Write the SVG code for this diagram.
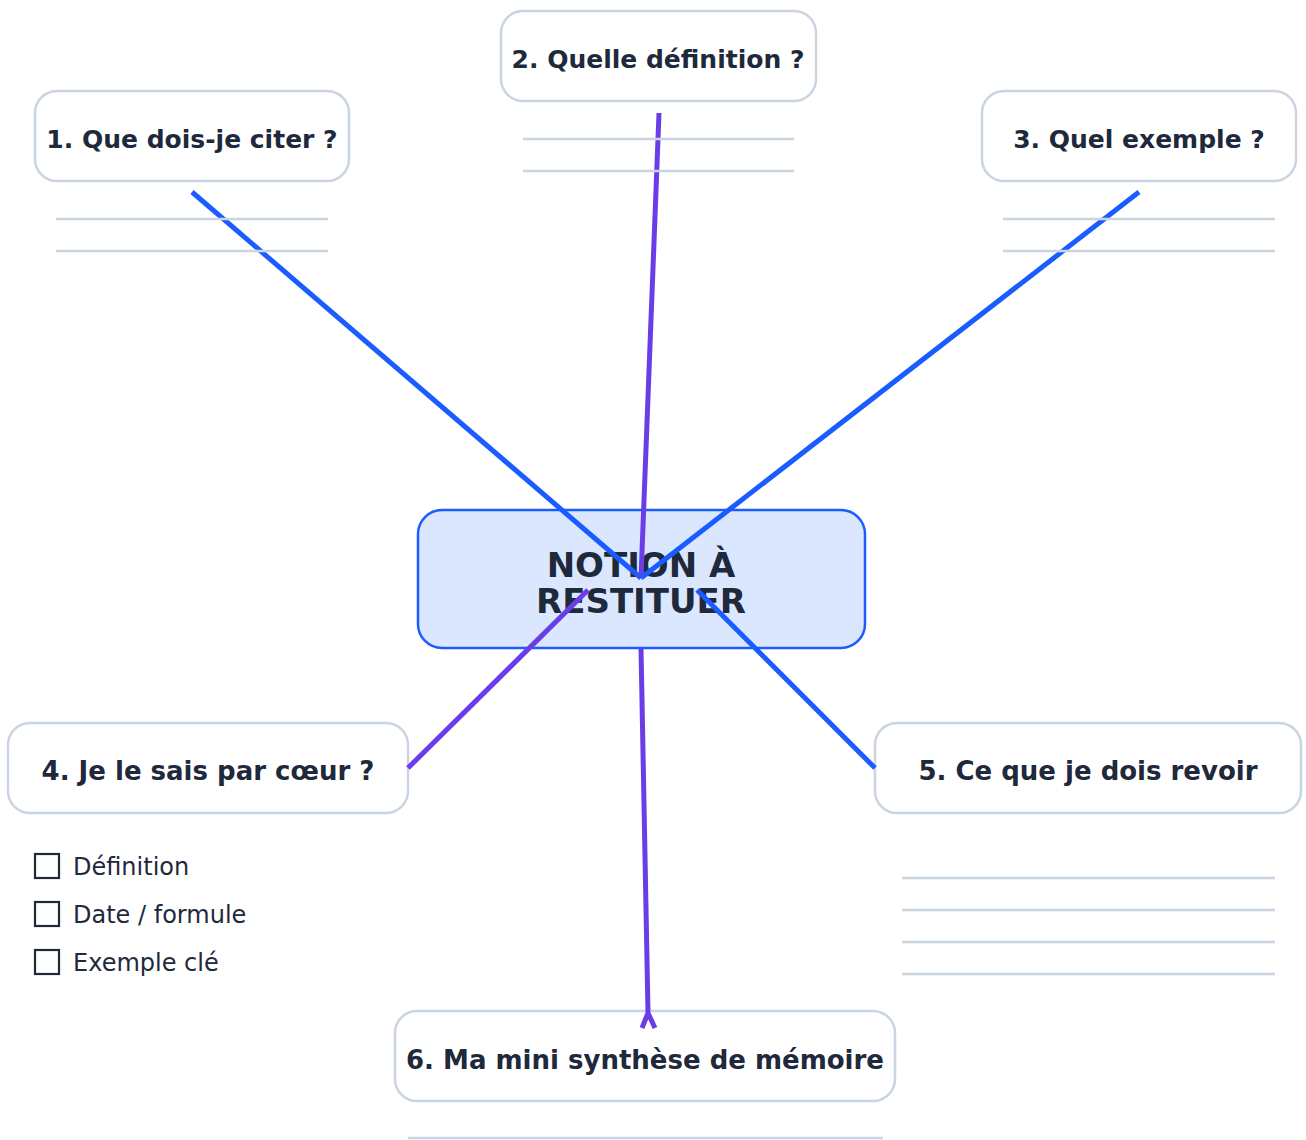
<svg xmlns="http://www.w3.org/2000/svg" width="1306" height="1140" viewBox="0 0 1306 1140">
<style>
.node{fill:#ffffff;stroke:#cbd5e1;stroke-width:2.5}
.center{fill:#dbe7fe;stroke:#1a5cff;stroke-width:2.5}
.lbl{font-family:"DejaVu Sans",sans-serif;font-weight:bold;font-size:25px;fill:#1e293b;text-anchor:middle}
.lbl2{font-family:"DejaVu Sans",sans-serif;font-weight:bold;font-size:26px;fill:#1e293b;text-anchor:middle}
.clbl{font-family:"DejaVu Sans",sans-serif;font-weight:bold;font-size:34px;fill:#1e293b;text-anchor:middle}
.item{font-family:"DejaVu Sans",sans-serif;font-size:24px;fill:#1e293b}
.guide{stroke:#cbd5e1;stroke-width:2.5}
.box{fill:none;stroke:#1e293b;stroke-width:2.2}
.blue{stroke:#1a5cff;stroke-width:5;fill:none}
.purple{stroke:#6b3de8;stroke-width:5;fill:none}
</style>
<rect width="1306" height="1140" fill="#ffffff"/>
<g id="center">
<rect class="center" x="418" y="510" width="447" height="138" rx="24"/>
<text class="clbl" x="641" y="577">NOTION À</text>
<text class="clbl" x="641" y="613">RESTITUER</text>
</g>
<g id="node1">
<rect class="node" x="35" y="91" width="314" height="90" rx="22"/>
<text class="lbl" x="192" y="148">1. Que dois-je citer ?</text>
</g>
<g id="node2">
<rect class="node" x="501" y="11" width="315" height="90" rx="22"/>
<text class="lbl" x="658" y="68">2. Quelle définition ?</text>
</g>
<g id="node3">
<rect class="node" x="982" y="91" width="314" height="90" rx="22"/>
<text class="lbl" x="1139" y="148">3. Quel exemple ?</text>
</g>
<g id="node4">
<rect class="node" x="8" y="723" width="400" height="90" rx="22"/>
<text class="lbl2" x="208" y="780">4. Je le sais par cœur ?</text>
<rect class="box" x="35" y="854" width="24" height="24"/>
<text class="item" x="73" y="875">Définition</text>
<rect class="box" x="35" y="902" width="24" height="24"/>
<text class="item" x="73" y="923">Date / formule</text>
<rect class="box" x="35" y="950" width="24" height="24"/>
<text class="item" x="73" y="971">Exemple clé</text>
</g>
<g id="node5">
<rect class="node" x="875" y="723" width="426" height="90" rx="22"/>
<text class="lbl2" x="1088" y="780">5. Ce que je dois revoir</text>
</g>
<g id="node6">
<rect class="node" x="395" y="1011" width="500" height="90" rx="22"/>
<text class="lbl2" x="645" y="1069">6. Ma mini synthèse de mémoire</text>
</g>
<g id="connectors">
<line class="blue" x1="192" y1="192" x2="641" y2="578"/>
<line class="purple" x1="659" y1="113" x2="641" y2="578"/>
<line class="blue" x1="1139" y1="192" x2="641" y2="578"/>
<line class="purple" x1="588" y1="590" x2="408" y2="768"/>
<line class="blue" x1="697" y1="590" x2="875" y2="768"/>
<line class="purple" x1="641" y1="648" x2="648" y2="1012"/>
<path class="purple" d="M642 1028 L648 1013 L655 1028"/>
</g>
<g id="guides">
<line class="guide" x1="56" y1="219" x2="328" y2="219"/>
<line class="guide" x1="56" y1="251" x2="328" y2="251"/>
<line class="guide" x1="523" y1="139" x2="794" y2="139"/>
<line class="guide" x1="523" y1="171" x2="794" y2="171"/>
<line class="guide" x1="1003" y1="219" x2="1275" y2="219"/>
<line class="guide" x1="1003" y1="251" x2="1275" y2="251"/>
<line class="guide" x1="902" y1="878" x2="1275" y2="878"/>
<line class="guide" x1="902" y1="910" x2="1275" y2="910"/>
<line class="guide" x1="902" y1="942" x2="1275" y2="942"/>
<line class="guide" x1="902" y1="974" x2="1275" y2="974"/>
<line class="guide" x1="408" y1="1138" x2="883" y2="1138"/>
</g>
</svg>
